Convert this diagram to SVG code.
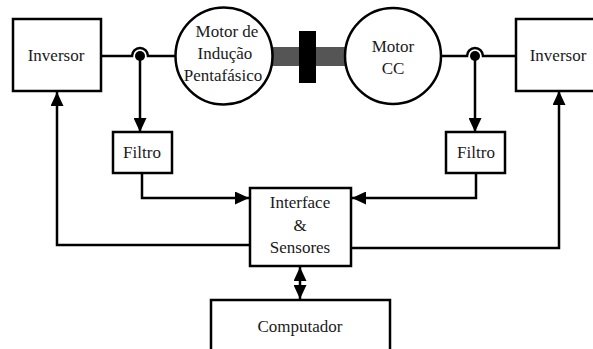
<svg xmlns="http://www.w3.org/2000/svg" width="593" height="349" viewBox="0 0 593 349" font-family="'Liberation Serif', 'DejaVu Serif', serif">
<style>
.box{fill:#fff;stroke:#000;stroke-width:2.5}
.motor{fill:#fff;stroke:#000;stroke-width:2.5}
.ln{fill:none;stroke:#000;stroke-width:2.5}
text{font-family:'Liberation Serif','DejaVu Serif',serif;font-size:17px;fill:#1a1a1a;text-anchor:middle}
</style>
<defs>
<marker id="ah" viewBox="0 0 14 13" refX="14" refY="6.5" markerWidth="14" markerHeight="13" markerUnits="userSpaceOnUse" orient="auto-start-reverse">
<path d="M0,0 L14,6.5 L0,13 Z" fill="#000"/>
</marker>
</defs>
<rect width="593" height="349" fill="#fff"/>
<g id="shaft">
<rect x="272" y="47" width="73" height="19" fill="#555"/>
<rect x="299" y="31" width="17" height="52" fill="#000"/>
</g>
<g id="connectors">
<path class="ln" d="M101,56 H132 A8,8 0 0 1 148,56 H175.5"/>
<circle cx="140" cy="56" r="5" fill="#000"/>
<path class="ln" d="M140,56 V132" marker-end="url(#ah)"/>
<path class="ln" d="M441.5,56 H467 A8,8 0 0 1 483,56 H516"/>
<circle cx="475" cy="56" r="5" fill="#000"/>
<path class="ln" d="M475,56 V132" marker-end="url(#ah)"/>
<path class="ln" d="M142,173 V198 H249" marker-end="url(#ah)"/>
<path class="ln" d="M476,173 V198 H352" marker-end="url(#ah)"/>
<path class="ln" d="M250,245 H57 V92" marker-end="url(#ah)"/>
<path class="ln" d="M351,248 H559 V91" marker-end="url(#ah)"/>
<path class="ln" d="M300,267 V299" marker-start="url(#ah)" marker-end="url(#ah)"/>
</g>
<g id="inversor-esq">
<rect class="box" x="13" y="19" width="88" height="72"/>
<text x="56" y="61">Inversor</text>
</g>
<g id="motor-inducao">
<circle class="motor" cx="224" cy="56" r="48.5"/>
<text x="227" y="37">Motor de</text>
<text x="225" y="59">Indução</text>
<text x="223" y="81">Pentafásico</text>
</g>
<g id="motor-cc">
<circle class="motor" cx="393" cy="56" r="48"/>
<text x="393" y="52">Motor</text>
<text x="393" y="74">CC</text>
</g>
<g id="inversor-dir">
<rect class="box" x="516" y="19" width="84" height="72"/>
<text x="558" y="61">Inversor</text>
</g>
<g id="filtro-esq">
<rect class="box" x="113" y="132" width="59" height="41"/>
<text x="142" y="158">Filtro</text>
</g>
<g id="filtro-dir">
<rect class="box" x="446" y="132" width="59" height="41"/>
<text x="476" y="158">Filtro</text>
</g>
<g id="interface">
<rect class="box" x="250" y="188" width="101" height="78"/>
<text x="300" y="208">Interface</text>
<text x="300" y="231">&amp;</text>
<text x="300" y="253">Sensores</text>
</g>
<g id="computador">
<rect class="box" x="211" y="300" width="179" height="60"/>
<text x="300" y="332">Computador</text>
</g>
</svg>
